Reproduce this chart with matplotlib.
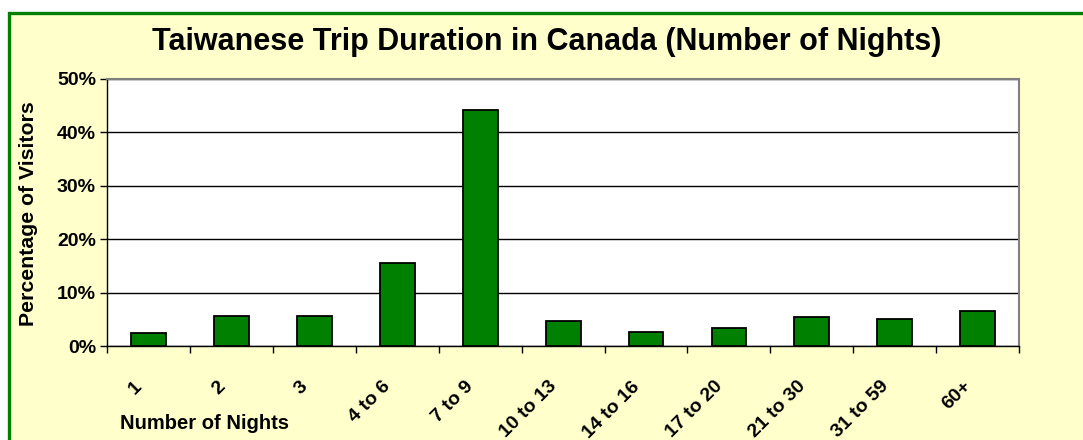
import numpy as np
import matplotlib
matplotlib.use("Agg")
import matplotlib.pyplot as plt
from matplotlib.patches import Rectangle
from matplotlib.transforms import ScaledTranslation

plt.rcParams["font.family"] = ["Liberation Sans", "DejaVu Sans"]
plt.rcParams["font.weight"] = "bold"

categories = ["1", "2", "3", "4 to 6", "7 to 9", "10 to 13", "14 to 16",
              "17 to 20", "21 to 30", "31 to 59", "60+"]
percent = [2.5, 5.7, 5.7, 15.6, 44.2, 4.6, 2.6, 3.3, 5.4, 5.0, 6.5]
yticks = [0, 10, 20, 30, 40, 50]

fig = plt.figure(figsize=(10.83, 4.4), dpi=100, facecolor="white")

# yellow chart area with green frame (runs off the right/bottom edge)
fig.patches.append(Rectangle((0.0085, -0.05), 1.2, 1.0195, transform=fig.transFigure,
                             facecolor="#FFFFCC", edgecolor="#008000", linewidth=2.4,
                             zorder=-1))

ax = fig.add_axes([0.0988, 0.2136, 0.8423, 0.6069])
ax.set_zorder(2)
ax.set_facecolor("white")

x = np.arange(len(categories))
ax.bar(x, percent, width=0.42, color="#008000", edgecolor="black", linewidth=1.3, zorder=3)

ax.set_xlim(-0.5, len(categories) - 0.5)
ax.set_ylim(0, 50)
ax.set_yticks(yticks)
ax.set_yticklabels([f"{v}%" for v in yticks], fontsize=14, fontweight="bold")
ax.yaxis.grid(True, color="black", linewidth=1.0, zorder=1)
ax.set_axisbelow(True)

# ticks at category boundaries, labels at centers
ax.set_xticks(np.arange(len(categories) + 1) - 0.5)
ax.set_xticklabels([])
ax.set_xticks(x, minor=True)
ax.set_xticklabels(categories, minor=True, rotation=45, ha="right", va="top",
                   rotation_mode="anchor", fontsize=14, fontweight="bold")
ax.tick_params(axis="x", which="minor", length=0, pad=23)
ax.tick_params(axis="x", which="major", length=5, width=1, direction="out")
ax.tick_params(axis="y", length=5, width=1, direction="out", pad=3)
shift = ScaledTranslation(-15 / 100, 0, fig.dpi_scale_trans)
for lab in ax.get_xticklabels(minor=True):
    lab.set_transform(lab.get_transform() + shift)

for s in ["top", "right"]:
    ax.spines[s].set_color("#808080")
    ax.spines[s].set_linewidth(1.5)
for s in ["left", "bottom"]:
    ax.spines[s].set_color("black")
    ax.spines[s].set_linewidth(1.0)

fig.text(0.5046, 0.905, "Taiwanese Trip Duration in Canada (Number of Nights)",
         ha="center", va="center", fontsize=22, fontweight="bold")
fig.text(0.026, 0.515, "Percentage of Visitors", rotation=90, ha="center", va="center",
         fontsize=15.3, fontweight="bold")
fig.text(0.111, 0.038, "Number of Nights", ha="left", va="center",
         fontsize=14.5, fontweight="bold")

fig.savefig("out.png", dpi=100, facecolor=fig.get_facecolor())
